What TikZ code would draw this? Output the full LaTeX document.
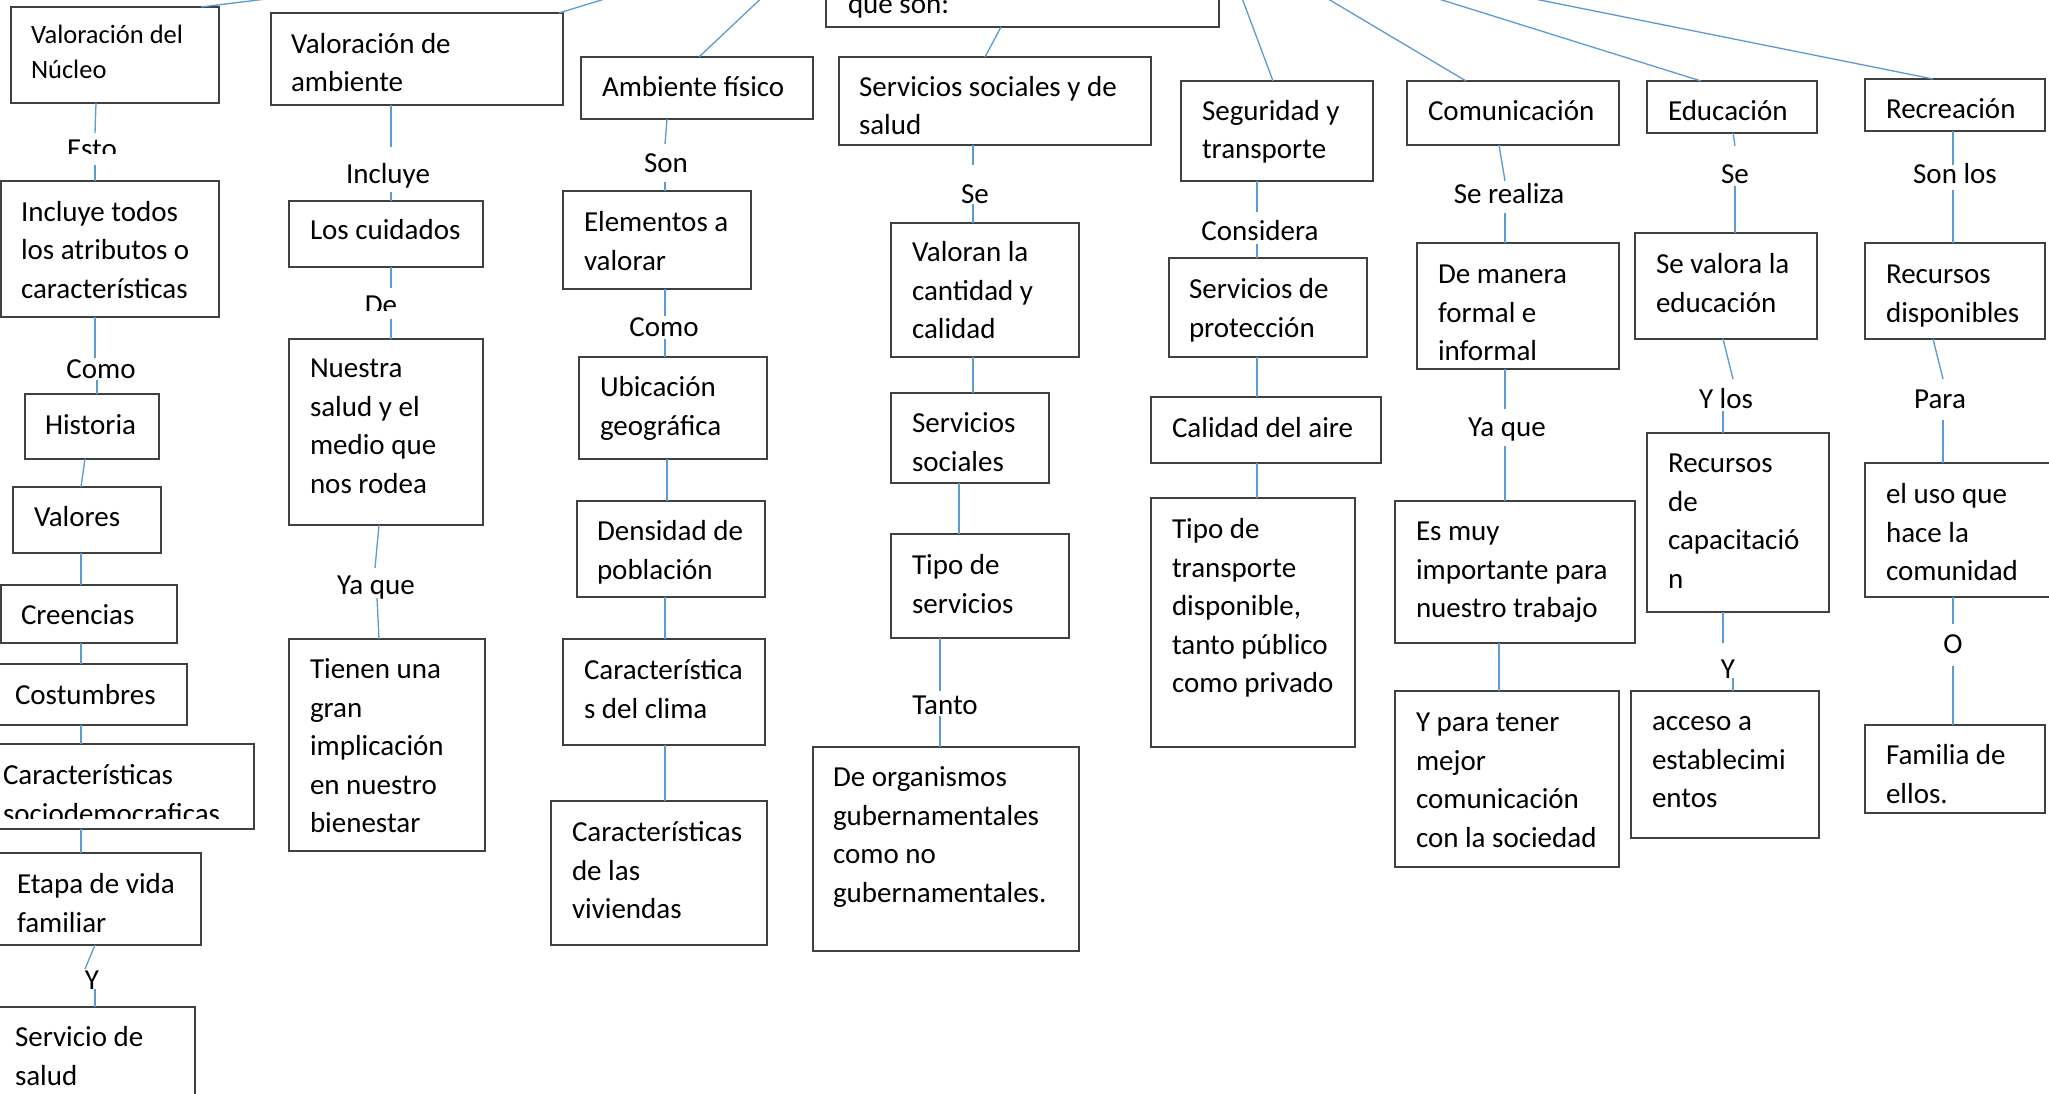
\documentclass[tikz,border=0pt]{standalone}
\usepackage{fontspec}
\setmainfont{Carlito}
\definecolor{lineblue}{HTML}{5B9BD5}
\definecolor{boxgray}{HTML}{404040}
\tikzset{
  boxst/.style={draw=boxgray, line width=1.6pt, inner sep=0pt, outer sep=0pt, anchor=north west},
  txt/.style={inner sep=0pt, outer sep=0pt, anchor=base west, yshift=-1.5pt, font=\fontsize{29}{38.5}\selectfont},
  lbl/.style={inner sep=0pt, outer sep=0pt, anchor=base, font=\fontsize{29}{38.5}\selectfont},
  conn/.style={draw=lineblue, line width=1.3pt},
}
\newcommand{\mkbox}[8]{%
  \node[boxst, minimum width={#4-(#2)}, minimum height={#5-(#3)}] (#1) at (#2,#3) {};
  \node[txt] (#1t) at (#6,#7) {\begin{tabular}[t]{@{}l@{}}#8\end{tabular}};
}
\begin{document}
\begin{tikzpicture}[x=1pt,y=-1pt]
\useasboundingbox (0,0) rectangle (2049,1094);
\clip (0,0) rectangle (2049,1094);
\fill[white] (0,0) rectangle (2049,1094);

% ---------- top box (cut off) ----------
\node[boxst, minimum width=393, minimum height=90] (topbox) at (826,-63) {};
\node[txt] (topboxt) at (848,12) {que son:};

% ---------- column 1 ----------
\node[boxst, minimum width=208, minimum height=96] (nuc) at (11,7) {};
\node[txt, font=\fontsize{26.5}{35}\selectfont] (nuct) at (31,42) {\begin{tabular}[t]{@{}l@{}}Valoración del\\Núcleo\end{tabular}};
\begin{scope}
  \clip (40,120) rectangle (150,154);
  \node[lbl, text height=26pt, text depth=6pt] (esto) at (92,159) {Esto};
\end{scope}
\mkbox{inc}{1}{181}{219}{317}{21}{220}{Incluye todos\\los atributos o\\características}
\node[lbl, text height=20pt, text depth=2pt] (como1) at (101,378) {Como};
\mkbox{hist}{25}{394}{159}{459}{45}{433}{Historia}
\mkbox{val}{13}{487}{161}{553}{34}{525}{Valores}
\mkbox{cre}{1}{585}{177}{643}{21}{623}{Creencias}
\mkbox{cos}{-2}{664}{187}{725}{15}{703}{Costumbres}
\node[boxst, minimum width=256, minimum height=85] (car) at (-2,744) {};
\begin{scope}
  \clip (0,744) rectangle (254,818);
  \node[txt] (cart) at (3,783) {\begin{tabular}[t]{@{}l@{}}Características\\sociodemocraficas\end{tabular}};
\end{scope}
\mkbox{eta}{-2}{853}{201}{945}{17}{892}{Etapa de vida\\familiar}
\node[lbl, text height=20pt, text depth=0pt] (y1) at (92,989) {Y};
\mkbox{sal}{-2}{1007}{195}{1120}{15}{1045}{Servicio de\\salud}

% ---------- column 2 ----------
\mkbox{amb}{271}{13}{563}{105}{291}{52}{Valoración de\\ambiente}
\node[lbl, text height=37pt, text depth=8pt] (incl) at (388,184) {Incluye};
\mkbox{cui}{289}{201}{483}{267}{310}{238}{Los cuidados}
\begin{scope}
  \clip (330,280) rectangle (440,310);
  \node[lbl, text height=26pt, text depth=5pt] (de) at (381,314) {De};
\end{scope}
\mkbox{nue}{289}{339}{483}{525}{310}{376}{Nuestra\\salud y el\\medio que\\nos rodea}
\node[lbl, text height=26pt, text depth=4pt] (yaq1) at (376,594) {Ya que};
\mkbox{tie}{289}{639}{485}{851}{310}{677}{Tienen una\\gran\\implicación\\en nuestro\\bienestar}

% ---------- column 3 ----------
\mkbox{af}{581}{57}{813}{119}{602}{95}{Ambiente físico}
\node[lbl, text height=29pt, text depth=9pt] (son) at (666,173) {Son};
\mkbox{ele}{563}{191}{751}{289}{584}{230}{Elementos a\\valorar}
\node[lbl, text height=20pt, text depth=3pt] (como2) at (664,336) {Como};
\mkbox{ubi}{579}{357}{767}{459}{600}{395}{Ubicación\\geográfica}
\mkbox{den}{577}{501}{765}{597}{597}{539}{Densidad de\\población}
\mkbox{cli}{563}{639}{765}{745}{584}{678}{Característica\\s del clima}
\mkbox{viv}{551}{801}{767}{945}{572}{840}{Características\\de las\\viviendas}

% ---------- column 4 ----------
\mkbox{ssal}{839}{57}{1151}{145}{859}{95}{Servicios sociales y de\\salud}
\node[lbl, text height=39pt, text depth=0pt] (se1) at (975,204) {Se};
\mkbox{val2}{891}{223}{1079}{357}{912}{260}{Valoran la\\cantidad y\\calidad}
\mkbox{ss}{891}{393}{1049}{483}{912}{431}{Servicios\\sociales}
\mkbox{tip}{891}{534}{1069}{638}{912}{573}{Tipo de\\servicios}
\node[lbl, text height=23pt, text depth=2pt] (tanto) at (945,714) {Tanto};
\mkbox{org}{813}{747}{1079}{951}{833}{785}{De organismos\\gubernamentales\\como no\\gubernamentales.}

% ---------- column 5 ----------
\mkbox{seg}{1181}{81}{1373}{181}{1202}{119}{Seguridad y\\transporte}
\node[lbl, text height=28pt, text depth=4pt] (cons) at (1260,240) {Considera};
\mkbox{pro}{1169}{258}{1367}{357}{1189}{297}{Servicios de\\protección}
\mkbox{aire}{1151}{397}{1381}{463}{1172}{436}{Calidad del aire}
\mkbox{tra}{1151}{498}{1355}{747}{1172}{537}{Tipo de\\transporte\\disponible,\\tanto público\\como privado}

% ---------- column 6 ----------
\mkbox{com}{1407}{81}{1619}{145}{1428}{119}{Comunicación}
\node[lbl, text height=23pt, text depth=9pt] (ser) at (1509,204) {Se realiza};
\mkbox{man}{1417}{243}{1619}{369}{1438}{282}{De manera\\formal e\\informal}
\node[lbl, text height=27pt, text depth=10pt] (yaq2) at (1507,436) {Ya que};
\mkbox{imp}{1395}{501}{1635}{643}{1416}{539}{Es muy\\importante para\\nuestro trabajo}
\mkbox{par}{1395}{691}{1619}{867}{1416}{730}{Y para tener\\mejor\\comunicación\\con la sociedad}

% ---------- column 7 ----------
\mkbox{edu}{1647}{81}{1817}{133}{1668}{119}{Educación}
\node[lbl, text height=37pt, text depth=3pt] (se2) at (1735,183) {Se};
\mkbox{sva}{1635}{233}{1817}{339}{1656}{272}{Se valora la\\educación}
\node[lbl, text height=29pt, text depth=3pt] (ylos) at (1726,408) {Y los};
\mkbox{cap}{1647}{433}{1829}{612}{1668}{471}{Recursos\\de\\capacitació\\n}
\node[lbl, text height=35pt, text depth=0pt] (y2) at (1728,678) {Y};
\mkbox{acc}{1631}{691}{1819}{838}{1652}{729}{acceso a\\establecimi\\entos}

% ---------- column 8 ----------
\mkbox{rec}{1865}{79}{2045}{131}{1886}{117}{Recreación}
\node[lbl, text height=19pt, text depth=6pt] (sonlos) at (1955,184) {Son los};
\mkbox{rdi}{1865}{243}{2045}{339}{1886}{282}{Recursos\\disponibles}
\node[lbl, text height=29pt, text depth=12pt] (para) at (1940,408) {Para};
\mkbox{uso}{1865}{463}{2070}{597}{1886}{502}{el uso que\\hace la\\comunidad}
\node[lbl, text height=29pt, text depth=13pt] (o) at (1953,653) {O};
\mkbox{fam}{1865}{725}{2045}{813}{1886}{763}{Familia de\\ellos.}

% ---------- free ends of the fan lines ----------
\coordinate (f1) at (340,-10);
\coordinate (f2) at (634,-10);
\coordinate (f3) at (770,-10);
\coordinate (f5) at (1239,-10);
\coordinate (f6) at (1313,-10);
\coordinate (f7) at (1410,-10);
\coordinate (f8) at (1490,-10);

% ---------- connectors ----------
\draw[conn] (201,0 |- nuc.north) -- (f1);
\draw[conn] (559,0 |- amb.north) -- (f2);
\draw[conn] (699,0 |- af.north) -- (f3);
\draw[conn] (985,0 |- ssal.north) -- (1001,0 |- topbox.south);
\draw[conn] (1273,0 |- seg.north) -- (f5);
\draw[conn] (1466,0 |- com.north) -- (f6);
\draw[conn] (1701,0 |- edu.north) -- (f7);
\draw[conn] (1933,0 |- rec.north) -- (f8);

% col1
\draw[conn] (96,0 |- nuc.south) -- (95,0 |- esto.north);
\draw[conn] (95,0 |- esto.south) -- (95,0 |- inc.north);
\draw[conn] (95,0 |- inc.south) -- (95,0 |- como1.north);
\draw[conn] (97,0 |- como1.south) -- (97,0 |- hist.north);
\draw[conn] (85,0 |- hist.south) -- (81,0 |- val.north);
\draw[conn] (81,0 |- val.south) -- (81,0 |- cre.north);
\draw[conn] (81,0 |- cre.south) -- (81,0 |- cos.north);
\draw[conn] (81,0 |- cos.south) -- (81,0 |- car.north);
\draw[conn] (81,0 |- car.south) -- (81,0 |- eta.north);
\draw[conn] (95,0 |- eta.south) -- (85,0 |- y1.north);
\draw[conn] (95,0 |- y1.south) -- (95,0 |- sal.north);
% col2
\draw[conn] (391,0 |- amb.south) -- (391,0 |- incl.north);
\draw[conn] (391,0 |- incl.south) -- (391,0 |- cui.north);
\draw[conn] (391,0 |- cui.south) -- (391,0 |- de.north);
\draw[conn] (391,0 |- de.south) -- (391,0 |- nue.north);
\draw[conn] (379,0 |- nue.south) -- (375,0 |- yaq1.north);
\draw[conn] (377,0 |- yaq1.south) -- (379,0 |- tie.north);
% col3
\draw[conn] (667,0 |- af.south) -- (665,0 |- son.north);
\draw[conn] (665,0 |- son.south) -- (665,0 |- ele.north);
\draw[conn] (665,0 |- ele.south) -- (665,0 |- como2.north);
\draw[conn] (665,0 |- como2.south) -- (665,0 |- ubi.north);
\draw[conn] (667,0 |- ubi.south) -- (667,0 |- den.north);
\draw[conn] (665,0 |- den.south) -- (665,0 |- cli.north);
\draw[conn] (665,0 |- cli.south) -- (665,0 |- viv.north);
% col4
\draw[conn] (973,0 |- ssal.south) -- (973,0 |- se1.north);
\draw[conn] (973,0 |- se1.south) -- (973,0 |- val2.north);
\draw[conn] (973,0 |- val2.south) -- (973,0 |- ss.north);
\draw[conn] (959,0 |- ss.south) -- (959,0 |- tip.north);
\draw[conn] (940,0 |- tip.south) -- (940,0 |- tanto.north);
\draw[conn] (940,0 |- tanto.south) -- (940,0 |- org.north);
% col5
\draw[conn] (1257,0 |- seg.south) -- (1257,0 |- cons.north);
\draw[conn] (1257,0 |- cons.south) -- (1257,0 |- pro.north);
\draw[conn] (1257,0 |- pro.south) -- (1257,0 |- aire.north);
\draw[conn] (1257,0 |- aire.south) -- (1257,0 |- tra.north);
% col6
\draw[conn] (1499,0 |- com.south) -- (1505,0 |- ser.north);
\draw[conn] (1505,0 |- ser.south) -- (1505,0 |- man.north);
\draw[conn] (1505,0 |- man.south) -- (1505,0 |- yaq2.north);
\draw[conn] (1505,0 |- yaq2.south) -- (1505,0 |- imp.north);
\draw[conn] (1499,0 |- imp.south) -- (1499,0 |- par.north);
% col7
\draw[conn] (1733,0 |- edu.south) -- (1735,0 |- se2.north);
\draw[conn] (1735,0 |- se2.south) -- (1735,0 |- sva.north);
\draw[conn] (1723,0 |- sva.south) -- (1733,0 |- ylos.north);
\draw[conn] (1723,0 |- ylos.south) -- (1723,0 |- cap.north);
\draw[conn] (1723,0 |- cap.south) -- (1723,0 |- y2.north);
\draw[conn] (1733,0 |- y2.south) -- (1733,0 |- acc.north);
% col8
\draw[conn] (1953,0 |- rec.south) -- (1953,0 |- sonlos.north);
\draw[conn] (1953,0 |- sonlos.south) -- (1953,0 |- rdi.north);
\draw[conn] (1933,0 |- rdi.south) -- (1943,0 |- para.north);
\draw[conn] (1943,0 |- para.south) -- (1943,0 |- uso.north);
\draw[conn] (1953,0 |- uso.south) -- (1953,0 |- o.north);
\draw[conn] (1953,0 |- o.south) -- (1953,0 |- fam.north);
\end{tikzpicture}
\end{document}
